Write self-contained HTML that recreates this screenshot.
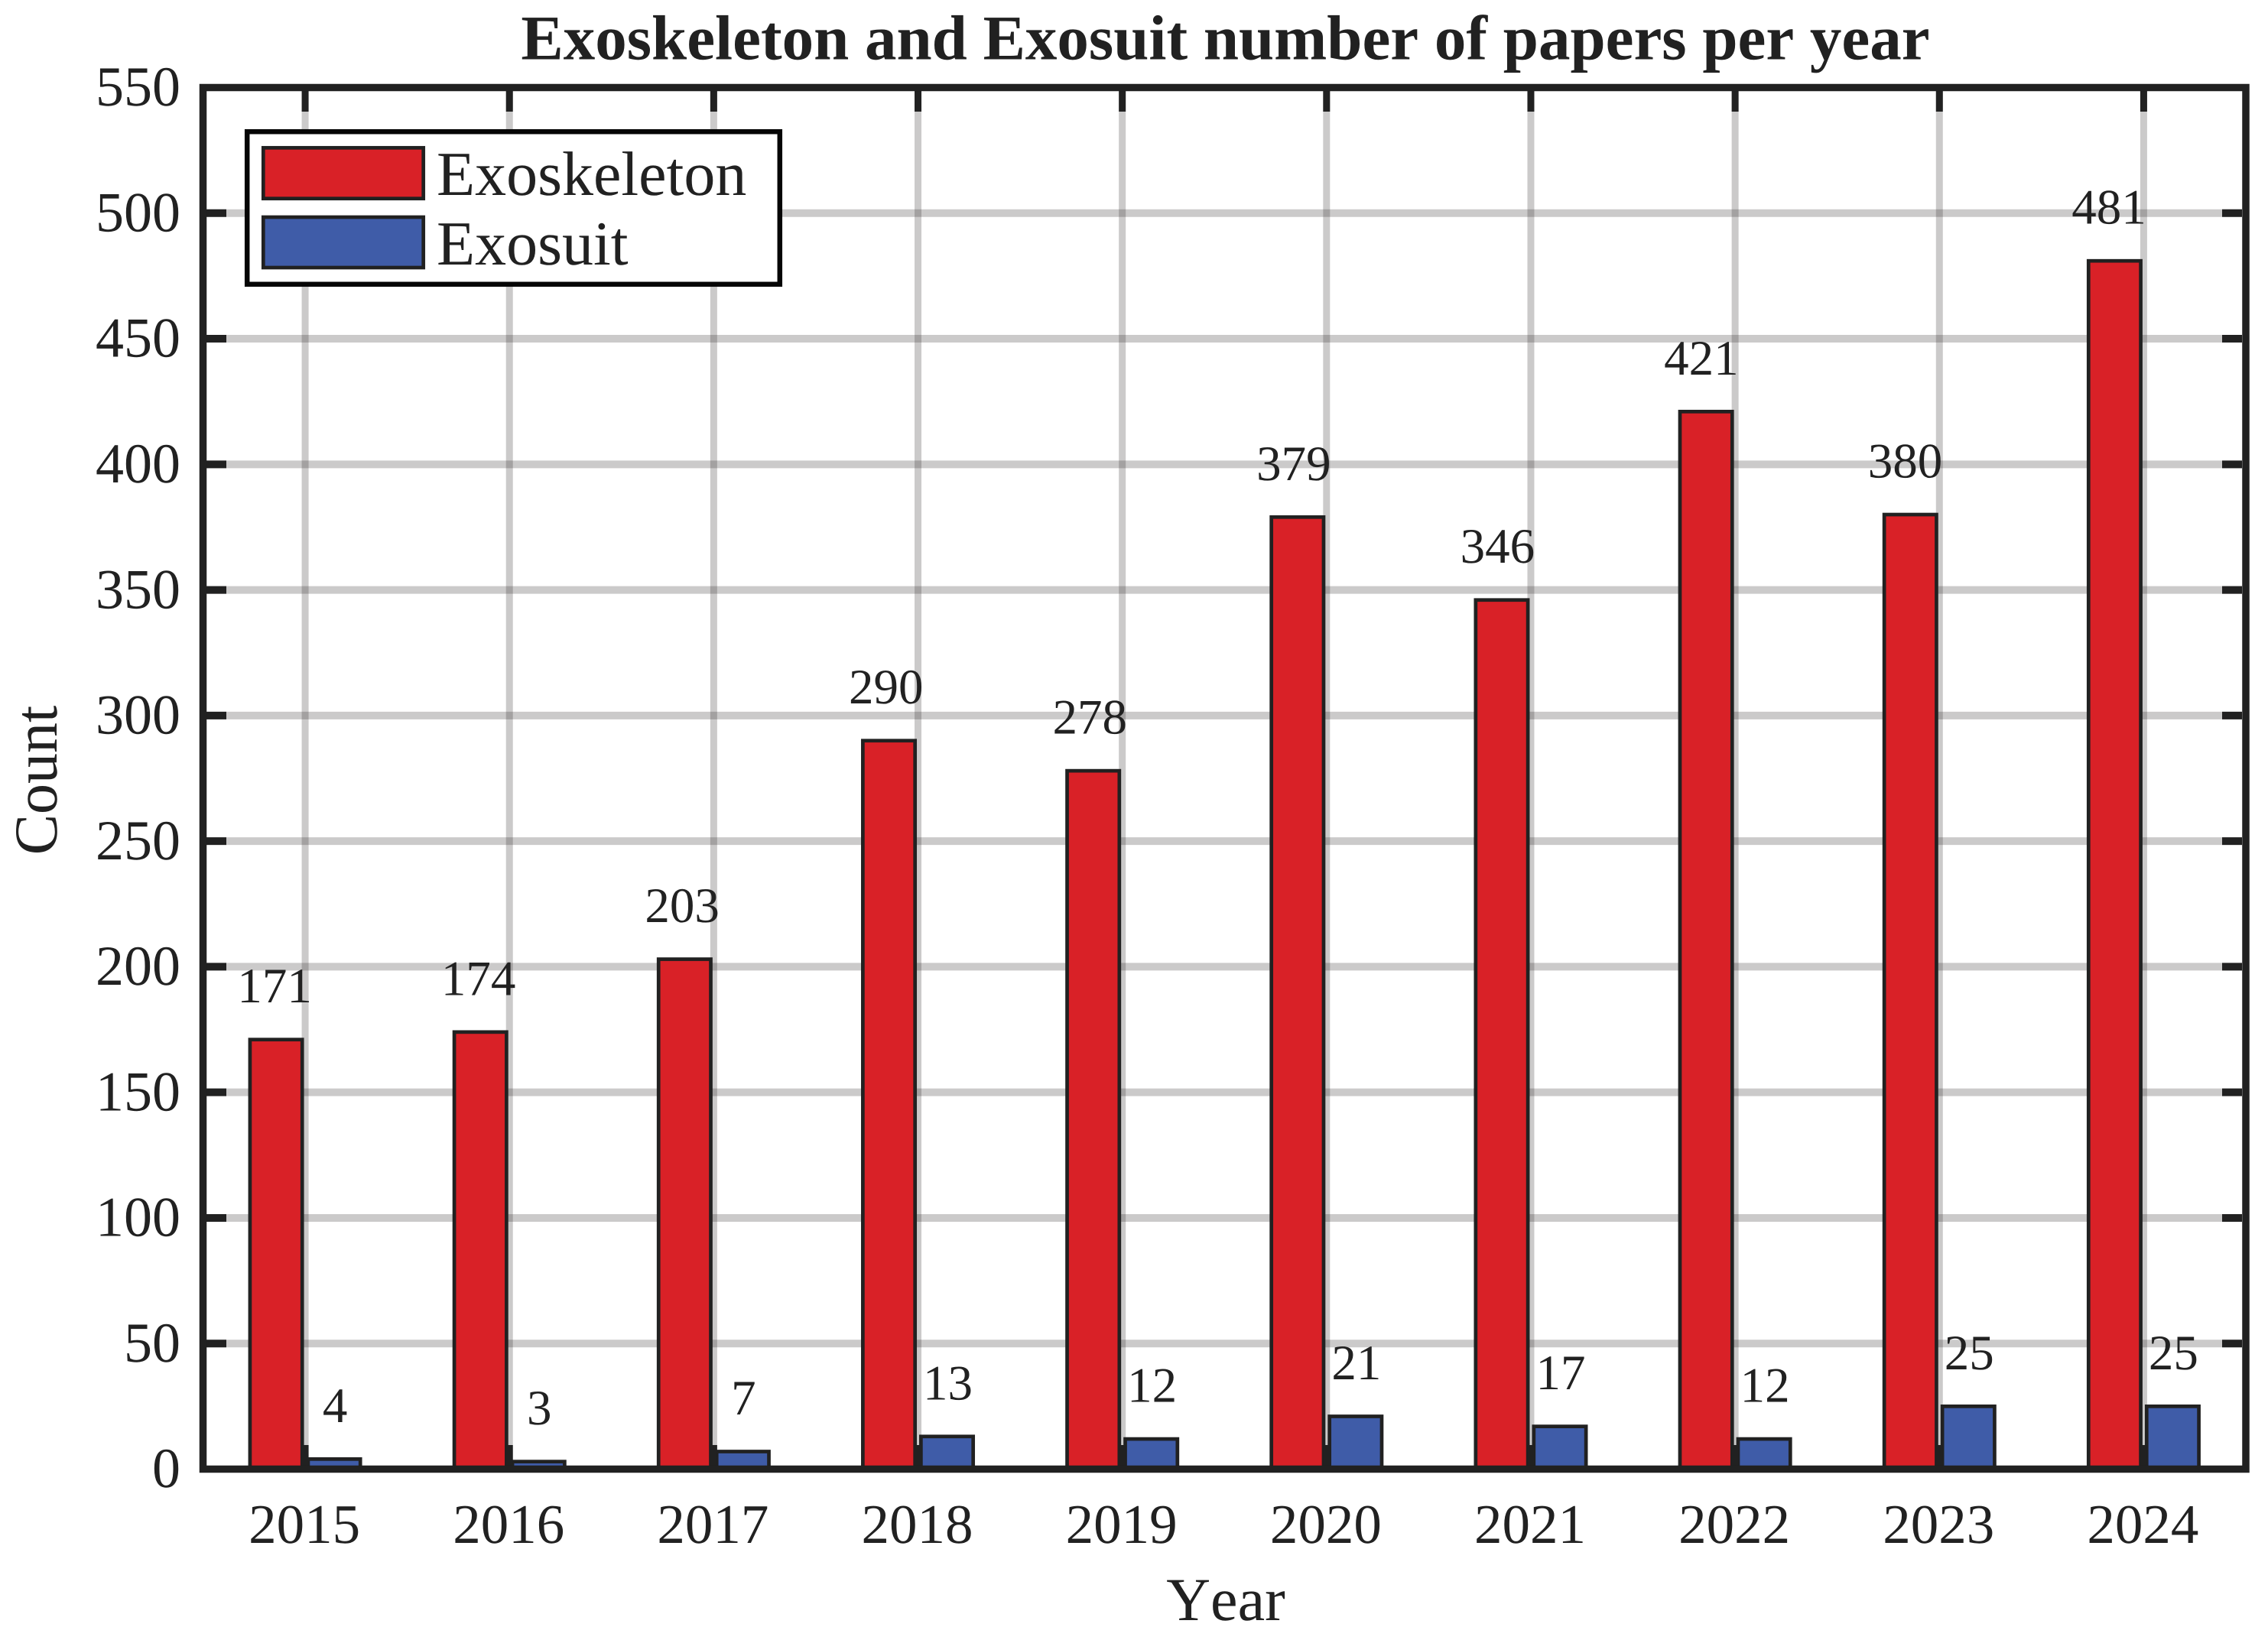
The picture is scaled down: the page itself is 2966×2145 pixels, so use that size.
<!DOCTYPE html>
<html lang="en">
<head>
<meta charset="utf-8">
<title>Exoskeleton and Exosuit number of papers per year</title>
<style>
html,body{margin:0;padding:0;background:#fff;}
svg{display:block;}
text{font-family:"Liberation Serif",serif;fill:#212121;text-rendering:geometricPrecision;font-kerning:none;}
</style>
</head>
<body>
<svg id="chart" xmlns="http://www.w3.org/2000/svg" width="2966" height="2145" viewBox="0 0 2966 2145">
  <rect x="0" y="0" width="2966" height="2145" fill="#ffffff"/>
  <g id="grid"></g>
  <g id="bars"></g>
  <g id="ticks"></g>
  <rect x="265.5" y="114.5" width="2671.5" height="1807" fill="none" stroke="#212121" stroke-width="9.5"/>
  <g id="values"></g>
  <g id="tick-labels"></g>
  <text x="1602.5" y="77.5" font-size="83" font-weight="700" text-anchor="middle">Exoskeleton and Exosuit number of papers per year</text>
  <text x="1603" y="2119" font-size="80" text-anchor="middle">Year</text>
  <text transform="translate(74,1020.5) rotate(-90)" font-size="80" text-anchor="middle">Count</text>
  <g>
    <rect x="323.2" y="172.2" width="696.6" height="199.6" fill="#ffffff" stroke="#050505" stroke-width="6.5"/>
    <g>
      <rect x="344.3" y="193.3" width="209.4" height="66.4" fill="#d92127" stroke="#212121" stroke-width="4.7"/>
      <text x="571" y="255" font-size="82">Exoskeleton</text>
    </g>
    <g>
      <rect x="344.3" y="284" width="209.4" height="66" fill="#3f5ca8" stroke="#212121" stroke-width="4.7"/>
      <text x="571" y="346" font-size="82">Exosuit</text>
    </g>
  </g>
</svg>
<script>
const years = [2015, 2016, 2017, 2018, 2019, 2020, 2021, 2022, 2023, 2024];
const exoskeletonCounts = [171, 174, 203, 290, 278, 379, 346, 421, 380, 481];
const exosuitCounts = [4, 3, 7, 13, 12, 21, 17, 12, 25, 25];
const yTickValues = [0, 50, 100, 150, 200, 250, 300, 350, 400, 450, 500, 550];

const NS = 'http://www.w3.org/2000/svg';
const LEFT = 265.5, RIGHT = 2937, TOP = 114.5, BOTTOM = 1921.5;
const X_MIN = 2014.5, X_MAX = 2024.5, Y_MIN = 0, Y_MAX = 550;
function xScale(v) { return LEFT + (v - X_MIN) / (X_MAX - X_MIN) * (RIGHT - LEFT); }
function yScale(v) { return BOTTOM - (v - Y_MIN) / (Y_MAX - Y_MIN) * (BOTTOM - TOP); }
function make(tag, parentId, attrs, content) {
  const el = document.createElementNS(NS, tag);
  for (const k in attrs) el.setAttribute(k, attrs[k]);
  if (content !== undefined) el.textContent = content;
  document.getElementById(parentId).appendChild(el);
  return el;
}
const BAR_OFFSET = 38, BAR_W = 68.3;
const INNER_L = 270, INNER_R = 2932, INNER_T = 119, INNER_B = 1917, TICK = 27;

years.forEach(function (yr) {
  const x = xScale(yr);
  const g = make('line', 'grid', { x1: x, x2: x, y1: INNER_T, y2: INNER_B, stroke: '#231f1f', 'stroke-opacity': 0.235, 'stroke-width': 9 });
  
  
  const t1 = make('line', 'ticks', { x1: x, x2: x, y1: INNER_T, y2: INNER_T + TICK, stroke: '#212121', 'stroke-width': 9 });
  
  
  const t2 = make('line', 'ticks', { x1: x, x2: x, y1: INNER_B - TICK, y2: INNER_B, stroke: '#212121', 'stroke-width': 9 });
  
  
  const lab = make('text', 'tick-labels', { x: x - 1, y: 2018, 'font-size': 73, 'text-anchor': 'middle' }, String(yr));
  
  
});

yTickValues.forEach(function (v) {
  const y = yScale(v);
  if (v !== Y_MIN && v !== Y_MAX) {
    const g = make('line', 'grid', { x1: INNER_L, x2: INNER_R, y1: y, y2: y, stroke: '#231f1f', 'stroke-opacity': 0.235, 'stroke-width': 10 });
    
    
    const t1 = make('line', 'ticks', { x1: INNER_L, x2: INNER_L + 26, y1: y, y2: y, stroke: '#212121', 'stroke-width': 10 });
    
    
    const t2 = make('line', 'ticks', { x1: INNER_R - 26, x2: INNER_R, y1: y, y2: y, stroke: '#212121', 'stroke-width': 10 });
    
    
  }
  const lab = make('text', 'tick-labels', { x: 236, y: y + 23.7, 'font-size': 74, 'text-anchor': 'end' }, String(v));
  
  
});

years.forEach(function (yr, i) {
  const cx = xScale(yr);
  const red = exoskeletonCounts[i], blue = exosuitCounts[i];
  const rx = cx - BAR_OFFSET, bx = cx + BAR_OFFSET;
  const rb = make('rect', 'bars', { x: rx - BAR_W / 2, y: yScale(red), width: BAR_W, height: yScale(0) - yScale(red), fill: '#d92127', stroke: '#212121', 'stroke-width': 4.7 });
  
  
  const bb = make('rect', 'bars', { x: bx - BAR_W / 2, y: yScale(blue), width: BAR_W, height: yScale(0) - yScale(blue), fill: '#3f5ca8', stroke: '#212121', 'stroke-width': 4.7 });
  
  
  const rl = make('text', 'values', { x: rx - 2 - 0.6 * i, y: yScale(red) - 48.5, 'font-size': 65, 'text-anchor': 'middle' }, String(red));
  
  
  const bl = make('text', 'values', { x: bx + 1, y: yScale(blue) - 48.5, 'font-size': 65, 'text-anchor': 'middle' }, String(blue));
  
  
});
</script>
</body>
</html>
